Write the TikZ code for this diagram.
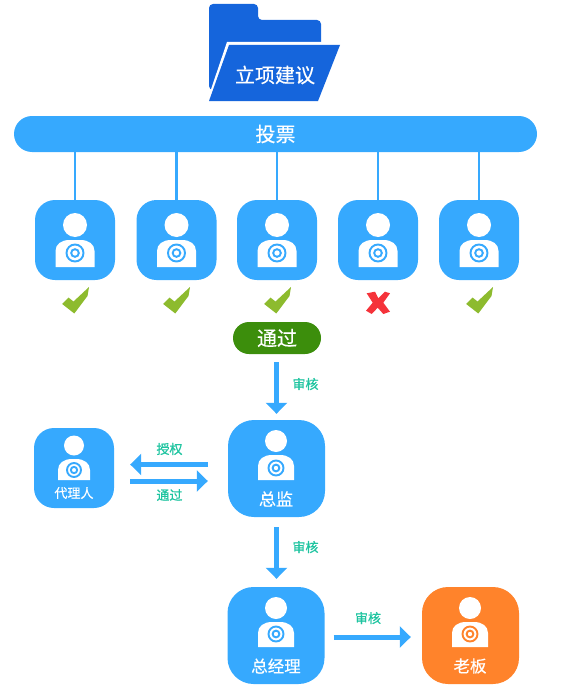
\documentclass[tikz,border=0pt]{standalone}
\usepackage{fontspec}
\setmainfont[FakeBold=0.5]{Noto Sans CJK SC}
\newfontfamily\labelfont[FakeBold=1]{Noto Sans CJK SC}
\usetikzlibrary{arrows.meta}
\definecolor{bluemain}{HTML}{36A9FE}
\definecolor{folderblue}{HTML}{1565DC}
\definecolor{checkgreen}{HTML}{8DBB2E}
\definecolor{crossred}{HTML}{F5333A}
\definecolor{bossorange}{HTML}{FF832B}
\definecolor{labelteal}{HTML}{1FC4A0}
\definecolor{pillgreen}{HTML}{3C8E0C}
\tikzset{
  smallbox/.style={fill=bluemain,rounded corners=20pt,minimum width=80pt,minimum height=80pt,inner sep=0pt},
  bigbox/.style={fill=bluemain,rounded corners=26pt,minimum width=97pt,minimum height=97pt,inner sep=0pt},
  whitetext/.style={text=white,inner sep=0pt},
  flowlabel/.style={text=labelteal,inner sep=0pt,font=\labelfont\fontsize{13}{13}\selectfont},
  flowarrow/.style={draw=bluemain,line width=5pt,-{Triangle[width=21pt,length=11pt]}},
  voteline/.style={draw=bluemain,line width=2.5pt},
}
% cx, head y, head r, body half width, body top, body bottom, target y, target r, colour
\newcommand{\personicon}[9]{%
  \fill[white] (#1,#2) circle[radius=#3];
  \fill[white] (#1-#4,#6) -- (#1-#4,#5+11) .. controls (#1-#4,#5+4) and (#1-#4+6,#5) .. (#1-#4+14,#5) -- (#1+#4-14,#5) .. controls (#1+#4-6,#5) and (#1+#4,#5+4) .. (#1+#4,#5+11) -- (#1+#4,#6) -- cycle;
  \draw[#9,line width=1.9pt] (#1,#7) circle[radius=#8];
  \draw[#9,line width=1.9pt] (#1,#7) circle[radius=#8*0.45];
}
\newcommand{\checkmarkicon}[1]{%
  \fill[checkgreen,shift={(#1,0)}] (-12.8,304) -- (-6.5,297.5) -- (-1.5,301.5) -- (14,287) -- (12.5,296) -- (-0.7,313.5) -- cycle;
}
\begin{document}
\begin{tikzpicture}[x=1pt,y=-1pt]
\useasboundingbox (0,0) rectangle (582,693);
% folder
\fill[folderblue,rounded corners=4pt] (209,90) -- (209,4) -- (258,4) -- (258,20) -- (321,20) -- (321,90) -- cycle;
\fill[white] (206,104) -- (227,42) -- (345,42) -- (321,104) -- cycle;
\fill[folderblue] (209,101) -- (229,45) -- (340,45) -- (318,101) -- cycle;
\node[whitetext,font=\fontsize{20}{20}\selectfont] (folder) at (275,75) {立项建议};
% vote bar
\node[fill=bluemain,rounded corners=18pt,minimum width=523pt,minimum height=36pt,inner sep=0pt,text=white,font=\fontsize{20}{20}\selectfont] (vote) at (275.5,134) {投票};
% voter boxes
\foreach \n/\x in {b1/75,b2/176.5,b3/277,b4/378,b5/479}{
  \node[smallbox] (\n) at (\x,240) {};
  \personicon{\x}{225}{12}{19.5}{240}{267}{253}{8.5}{bluemain}
  \draw[voteline] (vote.south -| \n.north) -- (\n.north);
}
\checkmarkicon{75}
\checkmarkicon{176}
\checkmarkicon{277}
\checkmarkicon{479}
\fill[crossred] (366.7,293.3) -- (375,291.7) -- (378.3,298.3) -- (385,291.7) -- (390,293.3) -- (383.3,302.7) -- (390,311.7) -- (383.3,314) -- (377.7,307.7) -- (371.7,314) -- (366,310.7) -- (372.7,302.7) -- cycle;
% pass pill
\node[fill=pillgreen,rounded corners=16pt,minimum width=88pt,minimum height=32pt,inner sep=0pt,text=white,font=\fontsize{20}{20}\selectfont] (pass) at (277,338) {通过};
% director
\node[bigbox] (director) at (276.5,468.5) {};
\personicon{276}{441}{11}{18}{455}{480}{468}{7.5}{bluemain}
\node[whitetext,font=\fontsize{17}{17}\selectfont] (directorlabel) at (276,499) {总监};
% agent
\node[smallbox] (agent) at (74,468) {};
\personicon{74}{445.5}{10}{16}{459}{480}{470}{7}{bluemain}
\node[whitetext,font=\fontsize{13}{13}\selectfont] (agentlabel) at (74,493) {代理人};
% general manager
\node[bigbox] (manager) at (276,635.5) {};
\personicon{276}{608}{11}{18}{622}{647}{634}{7.5}{bluemain}
\node[whitetext,font=\fontsize{16.5}{17}\selectfont] (managerlabel) at (276,666) {总经理};
% boss
\node[bigbox,fill=bossorange] (boss) at (470.5,635.5) {};
\personicon{470}{608}{11}{18}{622}{647}{634}{7.5}{bossorange}
\node[whitetext,font=\fontsize{16.5}{17}\selectfont] (bosslabel) at (470,666) {老板};
% connectors
\draw[flowarrow,shorten <=8pt,shorten >=6pt] (pass.south -| director.north) -- (director.north);
\draw[flowarrow,shorten <=10pt,shorten >=8pt] (director.south) -- (director.south |- manager.north);
\draw[flowarrow,shorten <=20pt,shorten >=16pt] ([yshift=4pt]director.west) -- ([yshift=4pt]director.west -| agent.east);
\draw[flowarrow,shorten <=16pt,shorten >=20pt] ([yshift=-13pt]agent.east) -- ([yshift=-13pt]agent.east -| director.west);
\draw[flowarrow,shorten <=9pt,shorten >=11pt] ([yshift=-1.5pt]manager.east) -- ([yshift=-1.5pt]manager.east -| boss.west);
% labels
\node[flowlabel] (l1) at (305.5,384) {审核};
\node[flowlabel] (l2) at (169.5,449) {授权};
\node[flowlabel] (l3) at (169.5,495) {通过};
\node[flowlabel] (l4) at (305.5,547) {审核};
\node[flowlabel] (l5) at (368,618) {审核};
\end{tikzpicture}
\end{document}
